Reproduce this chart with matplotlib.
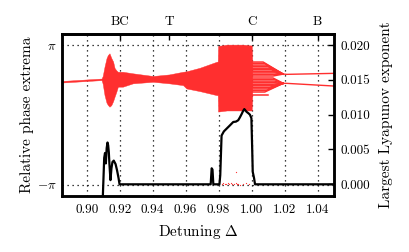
import numpy as np
import matplotlib
matplotlib.use("Agg")
import matplotlib.pyplot as plt
from matplotlib.ticker import FormatStrFormatter

plt.rcParams["font.family"] = "serif"
plt.rcParams["font.serif"] = ["cmr10"]
plt.rcParams["mathtext.fontset"] = "cm"
plt.rcParams["axes.formatter.use_mathtext"] = True

RED = "#ff2f2f"

# ---------------- data ----------------
# red band envelope: detuning, upper and lower phase extrema (rad)
band_x = [0.8846, 0.9090, 0.9097, 0.9108, 0.9120, 0.9128, 0.9138, 0.9149,
          0.9160, 0.9169, 0.9180, 0.9189, 0.9219, 0.9280, 0.9402, 0.9500,
          0.9584, 0.9605, 0.9686, 0.9788, 0.9795, 0.9797, 0.9850, 0.9950,
          1.0001, 1.0004]
band_top = [1.525, 1.635, 1.75, 2.17, 2.55, 2.69, 2.77, 2.56,
            2.40, 2.11, 2.00, 1.94, 1.94, 1.87, 1.75, 1.82,
            1.94, 1.96, 2.12, 2.39, 2.40, 3.10, 3.16, 3.16,
            3.12, 2.40]
band_bot = [1.455, 1.565, 1.40, 0.89, 0.55, 0.45, 0.37, 0.44,
            0.62, 0.82, 1.05, 1.27, 1.27, 1.42, 1.49, 1.42,
            1.34, 1.19, 1.07, 0.89, 0.89, 0.15, 0.20, 0.20,
            0.20, 0.90]

# fringes after the chaotic window
fringe_up_y = [2.377, 2.31, 2.24, 2.17, 2.10, 2.03, 1.96, 1.89, 1.82, 1.75]
fringe_up_bend = [1.007, 1.008, 1.009, 1.010, 1.011, 1.012, 1.013, 1.014,
                  1.014, 1.013]
fringe_lo_y = [1.66, 1.59, 1.52, 1.45, 1.38, 1.31, 1.24, 1.17, 1.10, 1.03]
fringe_lo_bend = [1.013, 1.014, 1.014, 1.014, 1.013, 1.012, 1.011, 1.010,
                  1.009, 1.008]
tip_x = 1.0191
tip_up, tip_lo = 1.837, 1.419

# two branches to the right
branch_x = [1.0191, 1.0214, 1.0502]
branch_up = [1.837, 1.824, 1.869]
branch_lo = [1.419, 1.419, 1.298]

# stray points near -pi
dots_x = [0.9818, 0.9828, 0.9838, 0.9847, 0.9856, 0.9866, 0.9875, 0.9884,
          0.9893, 0.9903, 0.9911, 0.9920, 0.9929, 0.9948, 0.9966, 0.9984,
          0.9903]
dots_y = [-3.11, -3.07, -3.12, -3.09, -3.06, -3.11, -3.08, -3.12,
          -3.10, -3.06, -3.11, -3.09, -3.13, -3.10, -3.08, -3.11,
          -2.557]

# largest Lyapunov exponent
lyap_x = [0.9097, 0.9106, 0.9111, 0.9116, 0.9121, 0.9126, 0.9130, 0.9134,
          0.9138, 0.9144, 0.9150, 0.9156, 0.9164, 0.9175, 0.9184, 0.9193,
          0.9199, 0.9752, 0.9758, 0.9763, 0.9768, 0.9805, 0.9810, 0.9818,
          0.9832, 0.9849, 0.9869, 0.9889, 0.9905, 0.9919, 0.9929, 0.9940,
          0.9948, 0.9956, 0.9963, 0.9970, 0.9981, 0.9990, 0.9999, 1.0004,
          1.0007, 1.0015, 1.0021, 1.0500]
lyap_y = [-0.0022, 0.0038, 0.0045, 0.0030, 0.0052, 0.0060, 0.0056, 0.0046,
          0.0028, 0.0006, 0.0023, 0.0032, 0.0034, 0.0029, 0.0020, 0.0009,
          0.0000, 0.0000, 0.0023, 0.0021, 0.0000, 0.0000, 0.0013, 0.0070,
          0.0076, 0.0080, 0.00847, 0.00895, 0.0090, 0.0092, 0.0096, 0.0101,
          0.0105, 0.0108, 0.0106, 0.0104, 0.0102, 0.0100, 0.0095, 0.0049,
          0.0018, 0.0009, 0.0000, 0.0000]

xticks = [0.90, 0.92, 0.94, 0.96, 0.98, 1.00, 1.02, 1.04]
top_ticks = [0.92, 0.95, 1.00, 1.04]
top_labels = ["BC", "T", "C", "B"]
rticks = [0.000, 0.005, 0.010, 0.015, 0.020]

# ---------------- plot ----------------
fig = plt.figure(figsize=(4.09, 2.52), dpi=100)
ax = fig.add_axes([0.1516, 0.2222, 0.665, 0.6428])

ax.fill_between(band_x, band_bot, band_top, color=RED, lw=0.3, zorder=2)
for y0, xb in zip(fringe_up_y, fringe_up_bend):
    ax.plot([1.0, xb, tip_x], [y0, y0, tip_up], color=RED, lw=1.1, zorder=2)
for y0, xb in zip(fringe_lo_y, fringe_lo_bend):
    ax.plot([1.0, xb, tip_x], [y0, y0, tip_lo], color=RED, lw=1.1, zorder=2)
ax.plot([1.0, 1.0099], [0.893, 0.893], color=RED, lw=1.1, zorder=2)
ax.plot(branch_x, branch_up, color=RED, lw=1.0, zorder=2)
ax.plot(branch_x, branch_lo, color=RED, lw=1.0, zorder=2)
ax.scatter(dots_x, dots_y, s=0.8, color=RED, lw=0, zorder=2)

ax.set_xlim(0.885, 1.05)
ax.set_ylim(-3.645, 3.637)
ax.set_xticks(xticks)
ax.xaxis.set_major_formatter(FormatStrFormatter("%.2f"))
ax.set_yticks([-np.pi, np.pi])
ax.set_yticklabels([r"$-\pi$", r"$\pi$"])
ax.grid(True, color="black", ls=(0, (1, 3)), lw=0.9)
ax.tick_params(direction="in", length=0, labelsize=9.5)
ax.tick_params(axis="x", pad=6)
ax.tick_params(axis="y", pad=4)
ax.set_xlabel(r"Detuning $\Delta$", fontsize=11, labelpad=5)
ax.set_ylabel("Relative phase extrema", fontsize=11, labelpad=2)

ax2 = ax.twinx()
ax2.plot(lyap_x, lyap_y, color="black", lw=1.6, zorder=3)
ax2.set_ylim(-0.00168, 0.02158)
ax2.set_yticks(rticks)
ax2.yaxis.set_major_formatter(FormatStrFormatter("%.3f"))
ax2.tick_params(direction="in", length=4, width=1, labelsize=9.5, pad=5)
ax2.set_ylabel("Largest Lyapunov exponent", fontsize=11, labelpad=6)

sec = ax.secondary_xaxis("top")
sec.set_xticks(top_ticks)
sec.set_xticklabels(top_labels)
sec.tick_params(direction="in", length=4, width=1, labelsize=9.5, pad=4)

for a in (ax, ax2):
    for sp in a.spines.values():
        sp.set_linewidth(1.8)
for sp in sec.spines.values():
    sp.set_linewidth(1.8)

fig.savefig("out.png", dpi=100)
